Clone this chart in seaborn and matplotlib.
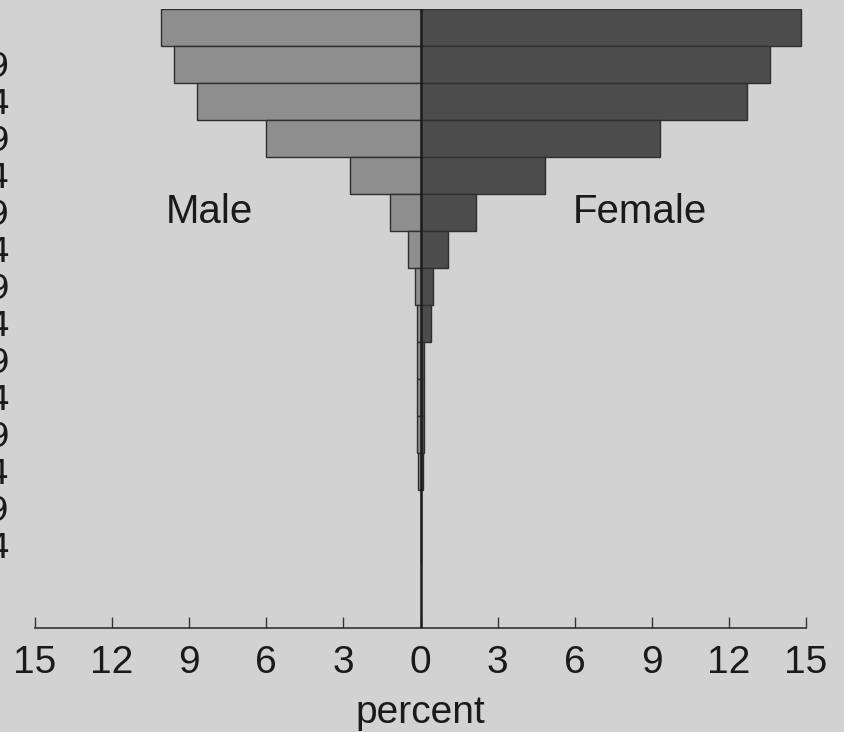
import matplotlib
matplotlib.use("Agg")
import matplotlib.pyplot as plt
import numpy as np
import pandas as pd
import seaborn as sns

# age groups, top of the chart first
age_groups = ["0-4", "5-9", "10-14", "15-19", "20-24", "25-29", "30-34", "35-39",
              "40-44", "45-49", "50-54", "55-59", "60-64", "65-69", "70-74"]
male_pct = [10.1, 9.6, 8.7, 6.0, 2.75, 1.2, 0.5, 0.2, 0.15, 0.12, 0.12, 0.12, 0.1, 0.0, 0.0]
female_pct = [14.8, 13.6, 12.7, 9.3, 4.85, 2.15, 1.05, 0.5, 0.4, 0.13, 0.12, 0.12, 0.1, 0.0, 0.0]
x_ticks = [-15, -12, -9, -6, -3, 0, 3, 6, 9, 12, 15]

df = pd.DataFrame({"age": age_groups, "Male": male_pct, "Female": female_pct})
df["Male_neg"] = -df["Male"]

sns.set_theme(style="white")
plt.rcParams["font.family"] = ["Liberation Sans", "DejaVu Sans"]

bg = "#d2d2d2"
fig = plt.figure(figsize=(8.44, 7.32), dpi=100, facecolor=bg)
ax = fig.add_axes([0.0415, 0.142, 0.9135, 0.846])
ax.set_facecolor(bg)

sns.barplot(data=df, y="age", x="Male_neg", order=age_groups, orient="h",
            color="#8e8e8e", saturation=1, width=1.0, edgecolor="#2e2e2e",
            linewidth=1.0, ax=ax)
sns.barplot(data=df, y="age", x="Female", order=age_groups, orient="h",
            color="#4c4c4c", saturation=1, width=1.0, edgecolor="#2e2e2e",
            linewidth=1.0, ax=ax)

ax.set_ylim(16.24, -0.5)
ax.set_xlim(-15, 15)

# centre line running down to the axis
ax.plot([0, 0], [16.24, -0.5], color="#1e1e1e", lw=1.8, zorder=5)

ax.text(-8.2, 5.0, "Male", fontsize=29, ha="center", va="center", color="#1a1a1a")
ax.text(8.55, 5.0, "Female", fontsize=29, ha="center", va="center", color="#1a1a1a")

ax.set_xticks(x_ticks)
ax.set_xticklabels([str(abs(t)) for t in x_ticks], fontsize=28, color="#1a1a1a")
ax.set_yticks(range(1, len(age_groups)))
ax.set_yticklabels(age_groups[1:], fontsize=24, color="#1a1a1a",
                   family=["DejaVu Sans"])
ax.tick_params(axis="y", left=False, length=0, pad=18)
ax.tick_params(axis="x", bottom=True, direction="in", length=8, width=1.0,
               color="#333333", pad=12)
ax.set_xlabel("percent", fontsize=28, color="#1a1a1a", labelpad=10)
ax.set_ylabel("")

for side in ["top", "right", "left"]:
    ax.spines[side].set_visible(False)
ax.spines["bottom"].set_color("#333333")
ax.spines["bottom"].set_linewidth(1.2)

fig.savefig("out.png", dpi=100, facecolor=bg)
